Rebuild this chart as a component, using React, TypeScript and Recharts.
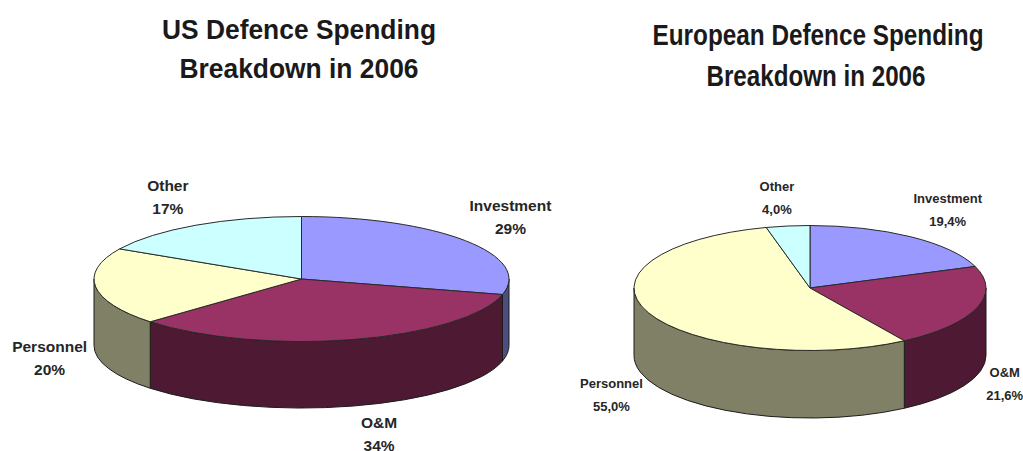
import { Pie, PieChart } from "recharts";

const categories = ["Investment", "O&M", "Personnel", "Other"];
const usValues = [29, 34, 20, 17];
const usLabels = ["29%", "34%", "20%", "17%"];
const euValues = [19.4, 21.6, 55, 4];
const euLabels = ["19,4%", "21,6%", "55,0%", "4,0%"];

const topColors = ["#9999ff", "#993366", "#ffffcc", "#ccffff"];
const wallColors = ["#4d4d80", "#4d1933", "#808066", "#668080"];

// label anchor, relative to the slice's rim point
const usNudges = [[45, -24], [26, 94], [-46, 71], [-28, -28]];
const euNudges = [[37, -27], [28, 76], [-37, 82], [-11, -28]];

const toTable = (values: number[]) =>
  categories.map((name, i) => ({
    name,
    value: values[i],
    fill: topColors[i],
    wall: wallColors[i],
  }));

const RAD = Math.PI / 180;

// Slices are flattened to an ellipse, with a wall along the front rim.
function tiltedSlice(ry: number, depth: number) {
  return function Slice(props: any) {
    const { cx, cy, outerRadius: rx, startAngle, endAngle, fill, payload } = props;
    const px = (a: number) => cx + rx * Math.cos(a * RAD);
    const py = (a: number) => cy - ry * Math.sin(a * RAD);
    const hi = Math.max(startAngle, endAngle);
    const lo = Math.min(startAngle, endAngle);
    const large = hi - lo > 180 ? 1 : 0;
    const top = `M${cx},${cy} L${px(hi)},${py(hi)} A${rx},${ry} 0 ${large} 1 ${px(lo)},${py(lo)} Z`;

    const wallHi = Math.min(hi, 0);
    const wallLo = Math.max(lo, -180);
    const wall =
      wallHi > wallLo
        ? `M${px(wallHi)},${py(wallHi)} A${rx},${ry} 0 0 1 ${px(wallLo)},${py(wallLo)} ` +
          `L${px(wallLo)},${py(wallLo) + depth} A${rx},${ry} 0 0 0 ${px(wallHi)},${py(wallHi) + depth} Z`
        : null;

    return (
      <g>
        {wall && <path d={wall} fill={payload?.wall} stroke="#1c1c1c" strokeWidth={1} />}
        <path d={top} fill={fill} stroke="#2a2a2a" strokeWidth={1} strokeLinejoin="round" />
      </g>
    );
  };
}

function sliceLabel(ry: number, texts: string[], nudges: number[][], fontSize: number, gap: number) {
  return function SliceLabel(props: any) {
    const { cx, cy, outerRadius: rx, midAngle, index, name } = props;
    const x = cx + rx * Math.cos(midAngle * RAD) + nudges[index][0];
    const y = cy - ry * Math.sin(midAngle * RAD) + nudges[index][1];
    return (
      <text
        x={x}
        y={y}
        textAnchor="middle"
        fontFamily="Liberation Sans"
        fontWeight="bold"
        fontSize={fontSize}
        fill="#262626"
      >
        <tspan x={x} dy={-gap / 2 + fontSize * 0.36}>
          {name ?? categories[index]}
        </tspan>
        <tspan x={x} dy={gap}>
          {texts[index]}
        </tspan>
      </text>
    );
  };
}

// Title lines are squeezed to a set width, the font is a condensed-looking bold
function TitleLine(props: { x: number; y: number; size: number; width: number; text: string }) {
  return (
    <text
      x={props.x}
      y={props.y}
      textAnchor="middle"
      fontFamily="Liberation Sans"
      fontWeight="bold"
      fontSize={props.size}
      fill="#1a1a1a"
      textLength={props.width}
      lengthAdjust="spacingAndGlyphs"
    >
      {props.text}
    </text>
  );
}

export default function App() {
  return (
    <div style={{ position: "absolute", left: 0, top: 0, width: 1023, height: 451, overflow: "hidden", background: "#fff" }}>
      <PieChart width={1023} height={451} margin={{ top: 0, right: 0, bottom: 0, left: 0 }}>
        <TitleLine x={299} y={39} size={28} width={274} text="US Defence Spending" />
        <TitleLine x={299} y={78} size={28} width={239} text="Breakdown in 2006" />
        <TitleLine x={818} y={45} size={29} width={331} text="European Defence Spending" />
        <TitleLine x={816} y={86} size={29} width={219} text="Breakdown in 2006" />
        <Pie
          data={toTable(usValues)}
          dataKey="value"
          nameKey="name"
          cx={301.5}
          cy={279}
          innerRadius={0}
          outerRadius={207.5}
          startAngle={90}
          endAngle={-270}
          stroke="none"
          shape={tiltedSlice(62.5, 66.5)}
          label={sliceLabel(62.5, usLabels, usNudges, 15.5, 23)}
          labelLine={false}
          isAnimationActive={false}
        />
        <Pie
          data={toTable(euValues)}
          dataKey="value"
          nameKey="name"
          cx={810}
          cy={288}
          innerRadius={0}
          outerRadius={176}
          startAngle={90}
          endAngle={-270}
          stroke="none"
          shape={tiltedSlice(62.5, 67.5)}
          label={sliceLabel(62.5, euLabels, euNudges, 13, 23)}
          labelLine={false}
          isAnimationActive={false}
        />
      </PieChart>
    </div>
  );
}
